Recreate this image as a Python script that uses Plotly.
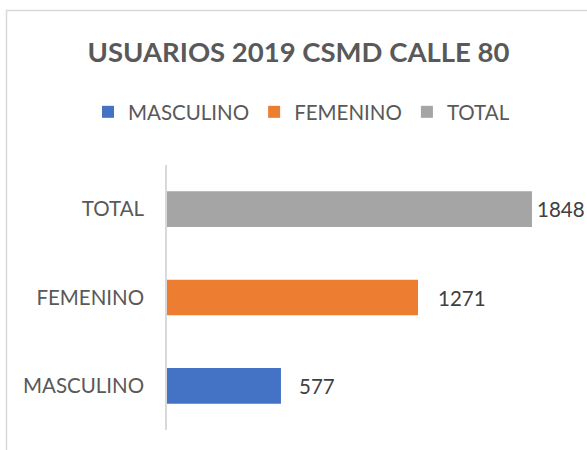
import plotly.graph_objects as go

categories = ["MASCULINO", "FEMENINO", "TOTAL"]
values = [577, 1271, 1848]
colors = ["#4472C4", "#ED7D31", "#A5A5A5"]
label_shift = [16, 18, 3]

FONT = "Lato"
W, H = 587, 450
ML, MR, MT, MB = 167, 25, 165, 20
PW, PH = W - ML - MR, H - MT - MB

def px_x(px):
    return (px - ML) / PW

def px_y(py):
    return (H - MB - py) / PH

fig = go.Figure()
for cat, val, col in zip(categories, values, colors):
    fig.add_trace(go.Bar(
        x=[val], y=[cat], name=cat, orientation="h",
        marker=dict(color=col, line=dict(width=0)),
        hoverinfo="x+y",
    ))

for cat, val, sh in zip(categories, values, label_shift):
    fig.add_annotation(
        x=val, y=cat, xref="x", yref="y", text=str(val), showarrow=False,
        xanchor="left", yanchor="middle", xshift=sh,
        font=dict(family=FONT, size=20.5, color="#404040"),
    )

fig.add_shape(
    type="rect", xref="paper", yref="paper",
    x0=px_x(6.5), x1=px_x(700), y0=px_y(600), y1=px_y(10.5),
    line=dict(color="#D9D9D9", width=1.5), fillcolor="rgba(0,0,0,0)", layer="below",
)

fig.update_layout(
    width=W, height=H,
    margin=dict(l=ML, r=MR, t=MT, b=MB, pad=0),
    paper_bgcolor="white", plot_bgcolor="white",
    barmode="overlay", bargap=0.597,
    title=dict(
        text="<b>USUARIOS 2019 CSMD CALLE 80</b>",
        x=298.5 / W, xanchor="center", xref="container",
        y=1 - 52 / H, yanchor="middle", yref="container",
        font=dict(family=FONT, size=27.5, color="#595959"),
    ),
    legend=dict(
        orientation="h", x=px_x(88), xanchor="left", y=px_y(112), yanchor="middle",
        font=dict(family=FONT, size=20.5, color="#595959"),
        bgcolor="rgba(0,0,0,0)", traceorder="normal",
    ),
    showlegend=True,
    xaxis=dict(range=[0, 2000], showgrid=False, zeroline=False, showline=False,
               showticklabels=False, ticks=""),
    yaxis=dict(type="category", categoryorder="array", categoryarray=categories,
               showgrid=False, zeroline=False, showline=True, linecolor="#D9D9D9",
               linewidth=1.5, ticks="", ticklabelstandoff=17,
               tickfont=dict(family=FONT, size=20.5, color="#595959")),
)

fig.write_html("out.html", config={"displayModeBar": False},
               post_script="document.body.style.margin='0';")
